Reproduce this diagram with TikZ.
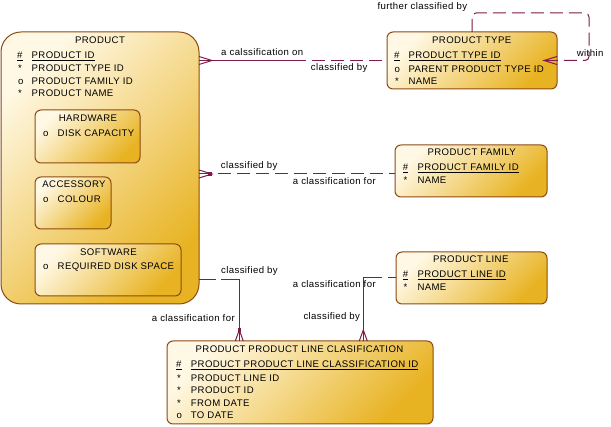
\documentclass[tikz,border=0pt]{standalone}
\usepackage{fontspec}
\setmainfont{Liberation Sans}[LetterSpace=4]
\usetikzlibrary{calc}
\definecolor{bord}{HTML}{8C4A14}
\definecolor{relc}{HTML}{7F1A4A}
\definecolor{gLight}{HTML}{FFF8E4}
\definecolor{gDark}{HTML}{E8B322}
\begin{document}
\begin{tikzpicture}[x=1pt,y=-1pt,
  font=\fontsize{9.6}{11}\selectfont,
  ent/.style={draw=bord,line width=1pt,top color=gLight,bottom color=gDark,shading angle=45,anchor=north west,inner sep=0pt,outer sep=0pt,rounded corners=6pt},
  lbl/.style={anchor=base west,inner sep=0pt},
  ttl/.style={anchor=base,inner sep=0pt},
  rel/.style={draw=relc,line width=1pt},
  dsh/.style={rel,dash pattern=on 13pt off 6pt},
  crowR/.pic={\draw[rel] (0,-4) -- (13,0) -- (0,4); \draw[rel] (0,0) -- (13,0);},
  crowU/.pic={\draw[rel] (-4,0) -- (0,-11) -- (4,0); \draw[rel] (0,0) -- (0,-11);},
  dotp/.pic={\fill[relc] (-1.6,-1.6) rectangle (1.6,1.6);}
]
\useasboundingbox (0,0) rectangle (611,427);

% PRODUCT
\node[ent,rounded corners=20pt,minimum width=198pt,minimum height=272pt] (product) at (1,32) {};
\node[ttl] (productT) at (100,44) {PRODUCT};
\node[lbl] (pr1s) at (17,59) {\underline{\#}};
\node[lbl] (pr1) at (31.5,59) {\underline{PRODUCT ID}};
\node[lbl] (pr2s) at (18,72) {*};
\node[lbl] (pr2) at (31.5,72) {PRODUCT TYPE ID};
\node[lbl] (pr3s) at (18,85) {o};
\node[lbl] (pr3) at (31.5,85) {PRODUCT FAMILY ID};
\node[lbl] (pr4s) at (18,97) {*};
\node[lbl] (pr4) at (31.5,97) {PRODUCT NAME};

% HARDWARE
\node[ent,minimum width=105pt,minimum height=53pt] (hw) at (35,110) {};
\node[ttl] (hwT) at (88,122) {HARDWARE};
\node[lbl] (hw1s) at (43,137) {o};
\node[lbl] (hw1) at (57.5,137) {DISK CAPACITY};

% ACCESSORY
\node[ent,minimum width=76pt,minimum height=52pt] (acc) at (35,177) {};
\node[ttl] (accT) at (74,188) {ACCESSORY};
\node[lbl] (acc1s) at (43,203) {o};
\node[lbl] (acc1) at (57.5,203) {COLOUR};

% SOFTWARE
\node[ent,minimum width=146pt,minimum height=52pt] (sw) at (35,244) {};
\node[ttl] (swT) at (108.5,256) {SOFTWARE};
\node[lbl] (sw1s) at (43,270) {o};
\node[lbl] (sw1) at (57.5,270) {REQUIRED DISK SPACE};

% PRODUCT TYPE
\node[ent,minimum width=170pt,minimum height=57pt] (ptype) at (387,32) {};
\node[ttl] (ptypeT) at (471.7,44) {PRODUCT TYPE};
\node[lbl] (pt1s) at (394,59) {\underline{\#}};
\node[lbl] (pt1) at (408.3,59) {\underline{PRODUCT TYPE ID}};
\node[lbl] (pt2s) at (394.5,73) {o};
\node[lbl] (pt2) at (408.3,73) {PARENT PRODUCT TYPE ID};
\node[lbl] (pt3s) at (395,85) {*};
\node[lbl] (pt3) at (408.3,85) {NAME};

% PRODUCT FAMILY
\node[ent,minimum width=152pt,minimum height=52pt] (pfam) at (395,145) {};
\node[ttl] (pfamT) at (471.7,156) {PRODUCT FAMILY};
\node[lbl] (pf1s) at (402.7,171) {\underline{\#}};
\node[lbl] (pf1) at (417.3,171) {\underline{PRODUCT FAMILY ID}};
\node[lbl] (pf2s) at (403.5,184) {*};
\node[lbl] (pf2) at (417.3,184) {NAME};

% PRODUCT LINE
\node[ent,minimum width=151pt,minimum height=52pt] (pline) at (396,252) {};
\node[ttl] (plineT) at (470.8,263) {PRODUCT LINE};
\node[lbl] (pl1s) at (402.7,278) {\underline{\#}};
\node[lbl] (pl1) at (417.3,278) {\underline{PRODUCT LINE ID}};
\node[lbl] (pl2s) at (403.5,290.5) {*};
\node[lbl] (pl2) at (417.3,290.5) {NAME};

% PPLC
\node[ent,minimum width=266pt,minimum height=83pt] (pplc) at (167,341) {};
\node[ttl] (pplcT) at (299.5,353) {PRODUCT PRODUCT LINE CLASIFICATION};
\node[lbl] (pc1s) at (176,368) {\underline{\#}};
\node[lbl] (pc1) at (190.7,368) {\underline{PRODUCT PRODUCT LINE CLASSIFICATION ID}};
\node[lbl] (pc2s) at (177,381.5) {*};
\node[lbl] (pc2) at (190.7,381.5) {PRODUCT LINE ID};
\node[lbl] (pc3s) at (177,394) {*};
\node[lbl] (pc3) at (190.7,394) {PRODUCT ID};
\node[lbl] (pc4s) at (177,407) {*};
\node[lbl] (pc4) at (190.7,407) {FROM DATE};
\node[lbl] (pc5s) at (176.5,419) {o};
\node[lbl] (pc5) at (190.7,419) {TO DATE};

% Product -- Product type
\coordinate (m1) at ($(product.east |- ptype.west)!0.5!(ptype.west)$);
\draw[rel] (product.east |- ptype.west) -- (m1);
\draw[dsh] (m1) -- (ptype.west);
\pic at (product.east |- ptype.west) {crowR};
\node[lbl] (l1) at (221,56) {a calssification on};
\node[lbl] (l2) at (310.7,71) {classified by};

% self loop
\coordinate (loopc) at (589,13);
\draw[dsh,rounded corners=4pt] (ptype.north) |- (loopc) |- (ptype.east);
\pic[xscale=-1] at (ptype.east) {crowR};
\node[lbl] (l3) at (377.3,9.5) {further classified by};
\node[lbl] (l4) at (576.7,56.7) {within};

% Product -- Product family
\coordinate (f1) at (product.east |- 0,174);
\draw[dsh] (f1) -- (pfam.west |- f1);
\pic at (f1) {crowR};
\pic at ($(f1)+(11,0)$) {dotp};
\node[lbl] (l5) at (220.7,168.5) {classified by};
\node[lbl] (l6) at (292.7,185) {a classification for};

% Product -- PPLC
\coordinate (b1) at (239.3,279.3);
\draw[rel] (product.east |- b1) -- ++(16.7,0);
\draw[rel] ($(product.east |- b1)+(22,0)$) -- (b1) -- (b1 |- pplc.north);
\pic at (b1 |- pplc.north) {crowU};
\pic at ($(b1 |- pplc.north)+(0,-11)$) {dotp};
\node[lbl] (l7) at (221,273.5) {classified by};
\node[lbl] (l8) at (151.7,321.7) {a classification for};

% Product line -- PPLC
\coordinate (b2) at (363.3,277.3);
\draw[rel] (pline.west |- b2) -- ++(-7.7,0);
\draw[rel] ($(pline.west |- b2)+(-14.3,0)$) -- (b2) -- (b2 |- pplc.north);
\pic at (b2 |- pplc.north) {crowU};
\node[lbl] (l9) at (292.7,288) {a classification for};
\node[lbl] (l10) at (303.3,320) {classified by};
\end{tikzpicture}
\end{document}
